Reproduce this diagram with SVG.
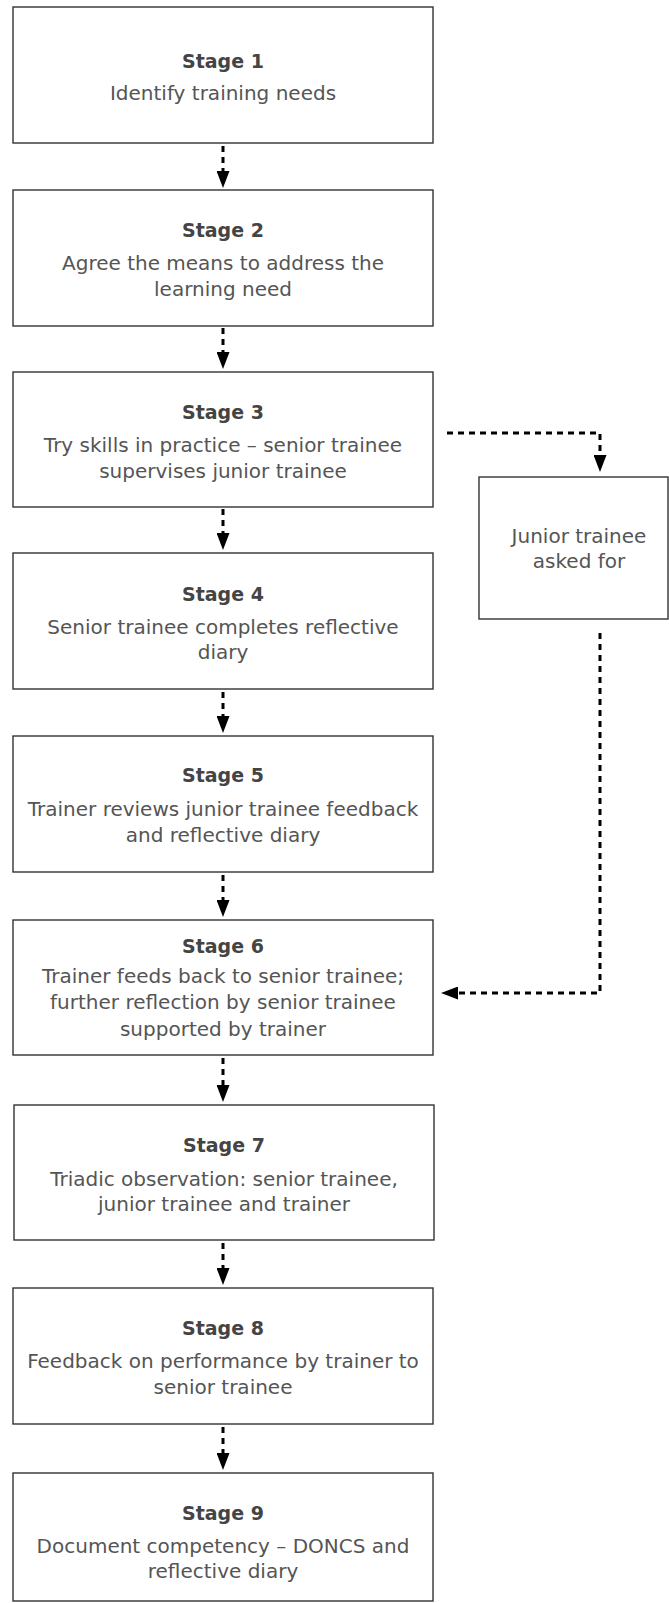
<svg xmlns="http://www.w3.org/2000/svg" width="669" height="1603" viewBox="0 0 669 1603">
<style>
.box{fill:#fff;stroke:#333;stroke-width:1.4}
.hd{font-family:"DejaVu Sans",sans-serif;font-weight:bold;font-size:19px;fill:#444;text-anchor:middle}
.tx{font-family:"DejaVu Sans",sans-serif;font-size:20px;fill:#555;text-anchor:middle}
.cn{fill:none;stroke:#000;stroke-width:3;stroke-dasharray:6 5}
</style>
<defs>
<marker id="ah" markerUnits="userSpaceOnUse" markerWidth="17" markerHeight="13" viewBox="0 0 17 13" refX="0" refY="6.5" orient="auto">
<path d="M0,0 L17,6.5 L0,13 z" fill="#000"/>
</marker>
</defs>
<rect width="669" height="1603" fill="#fff"/>
<g id="connectors">
<path class="cn" d="M223,146 V171" marker-end="url(#ah)"/>
<path class="cn" d="M223,328 V352" marker-end="url(#ah)"/>
<path class="cn" d="M223,509 V533" marker-end="url(#ah)"/>
<path class="cn" d="M223,692 V716" marker-end="url(#ah)"/>
<path class="cn" d="M223,875 V900" marker-end="url(#ah)"/>
<path class="cn" d="M223,1058 V1085" marker-end="url(#ah)"/>
<path class="cn" d="M223,1243 V1268" marker-end="url(#ah)"/>
<path class="cn" d="M223,1427 V1453" marker-end="url(#ah)"/>
<path class="cn" d="M447,433 H600 V455" marker-end="url(#ah)"/>
<path class="cn" d="M600,633 V993 H458" marker-end="url(#ah)"/>
</g>
<g id="stage1">
<rect class="box" x="13" y="7" width="420" height="136"/>
<text class="hd" x="223" y="68">Stage 1</text>
<text class="tx" x="223" y="100">Identify training needs</text>
</g>
<g id="stage2">
<rect class="box" x="13" y="190" width="420" height="136"/>
<text class="hd" x="223" y="237">Stage 2</text>
<text class="tx" x="223" y="270">Agree the means to address the</text>
<text class="tx" x="223" y="296">learning need</text>
</g>
<g id="stage3">
<rect class="box" x="13" y="372" width="420" height="135"/>
<text class="hd" x="223" y="419">Stage 3</text>
<text class="tx" x="223" y="452">Try skills in practice – senior trainee</text>
<text class="tx" x="223" y="478">supervises junior trainee</text>
</g>
<g id="junior">
<rect class="box" x="479" y="477" width="189" height="142"/>
<text class="tx" x="579" y="543">Junior trainee</text>
<text class="tx" x="579" y="568">asked for</text>
</g>
<g id="stage4">
<rect class="box" x="13" y="553" width="420" height="136"/>
<text class="hd" x="223" y="601">Stage 4</text>
<text class="tx" x="223" y="634">Senior trainee completes reflective</text>
<text class="tx" x="223" y="659">diary</text>
</g>
<g id="stage5">
<rect class="box" x="13" y="736" width="420" height="136"/>
<text class="hd" x="223" y="782">Stage 5</text>
<text class="tx" x="223" y="816">Trainer reviews junior trainee feedback</text>
<text class="tx" x="223" y="842">and reflective diary</text>
</g>
<g id="stage6">
<rect class="box" x="13" y="920" width="420" height="135"/>
<text class="hd" x="223" y="953">Stage 6</text>
<text class="tx" x="223" y="983">Trainer feeds back to senior trainee;</text>
<text class="tx" x="223" y="1009">further reflection by senior trainee</text>
<text class="tx" x="223" y="1036">supported by trainer</text>
</g>
<g id="stage7">
<rect class="box" x="14" y="1105" width="420" height="135"/>
<text class="hd" x="224" y="1152">Stage 7</text>
<text class="tx" x="224" y="1186">Triadic observation: senior trainee,</text>
<text class="tx" x="224" y="1211">junior trainee and trainer</text>
</g>
<g id="stage8">
<rect class="box" x="13" y="1288" width="420" height="136"/>
<text class="hd" x="223" y="1335">Stage 8</text>
<text class="tx" x="223" y="1368">Feedback on performance by trainer to</text>
<text class="tx" x="223" y="1394">senior trainee</text>
</g>
<g id="stage9">
<rect class="box" x="13" y="1473" width="420" height="128"/>
<text class="hd" x="223" y="1520">Stage 9</text>
<text class="tx" x="223" y="1553">Document competency – DONCS and</text>
<text class="tx" x="223" y="1578">reflective diary</text>
</g>
</svg>
